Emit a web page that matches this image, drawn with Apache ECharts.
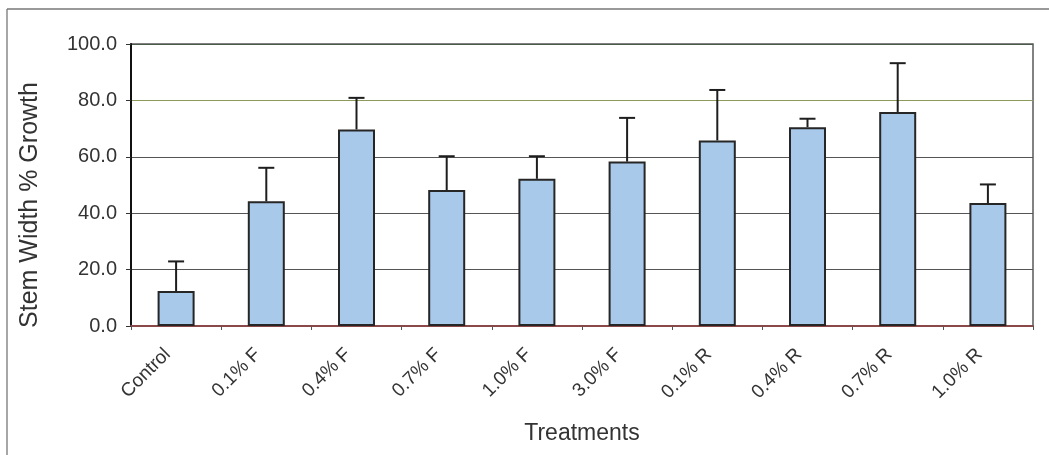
<!DOCTYPE html>
<html>
<head>
<meta charset="utf-8">
<script src="https://cdn.jsdelivr.net/npm/echarts@6/dist/echarts.min.js"></script>
<style>
  html, body { margin: 0; padding: 0; background: #fff; }
  #chart { width: 1049px; height: 455px; }
</style>
</head>
<body>
<div id="chart"></div>
<script>
// Treatment groups and mean stem width growth (%) with upper error bar ends
const categories = ['Control', '0.1% F', '0.4% F', '0.7% F', '1.0% F', '3.0% F', '0.1% R', '0.4% R', '0.7% R', '1.0% R'];
const growth = [12.4, 44.2, 69.7, 48.2, 52.2, 58.3, 65.8, 70.5, 75.9, 43.6];
const errorTop = [22.9, 56.1, 80.9, 60.2, 60.2, 73.8, 83.7, 73.5, 93.2, 50.2];
const yTicks = [0, 20, 40, 60, 80, 100];

const font = '"Liberation Sans", Arial, sans-serif';
const chart = echarts.init(document.getElementById('chart'), null, { renderer: 'canvas' });

const errData = categories.map((c, i) => [i, growth[i], errorTop[i]]);

chart.setOption({
  animation: false,
  backgroundColor: '#fff',
  grid: {
    left: 131, right: 16, top: 44, bottom: 129,
    show: true, borderColor: '#5a5a5a', borderWidth: 1.5, backgroundColor: 'transparent'
  },
  xAxis: {
    type: 'category',
    data: categories,
    axisLine: { show: true, lineStyle: { color: '#8a4848', width: 2 } },
    axisTick: { show: true, alignWithLabel: false, length: 4, lineStyle: { color: '#555', width: 1 } },
    axisLabel: {
      rotate: 45, margin: 17, color: '#333', fontSize: 19, fontFamily: font, interval: 0,
      padding: [0, 12, 0, 0]
    },
    splitLine: { show: false }
  },
  yAxis: {
    type: 'value',
    min: yTicks[0], max: yTicks[yTicks.length - 1], interval: 20,
    axisLine: { show: true, lineStyle: { color: '#111', width: 2 } },
    axisTick: { show: true, length: 5, lineStyle: { color: '#333', width: 1 } },
    axisLabel: {
      margin: 14, color: '#333', fontSize: 20, fontFamily: font,
      formatter: v => v.toFixed(1)
    },
    splitLine: {
      show: true,
      lineStyle: { color: ['#8a4848', '#555', '#555', '#555', '#8a9a5a', '#4a5a48'], width: 1.2 }
    }
  },
  series: [
    {
      type: 'bar',
      data: growth,
      barWidth: 37,
      itemStyle: { color: '#a8c9ea', borderColor: '#262626', borderWidth: 2 },
      z: 3
    },
    {
      // upper error bars with caps
      type: 'custom',
      data: errData,
      z: 4,
      renderItem: (params, api) => {
        const x = api.value(0);
        const base = api.coord([x, api.value(1)]);
        const top = api.coord([x, api.value(2)]);
        const hw = 8;
        const st = { stroke: '#1e1e1e', lineWidth: 2 };
        return {
          type: 'group',
          children: [
            { type: 'line', shape: { x1: base[0], y1: base[1], x2: top[0], y2: top[1] }, style: st },
            { type: 'line', shape: { x1: top[0] - hw, y1: top[1], x2: top[0] + hw, y2: top[1] }, style: st }
          ]
        };
      }
    }
  ],
  graphic: [
    // outer chart frame (top and left edges)
    { type: 'line', shape: { x1: 7, y1: 9, x2: 1049, y2: 9 }, style: { stroke: '#777', lineWidth: 1.3 } },
    { type: 'line', shape: { x1: 7, y1: 9, x2: 7, y2: 455 }, style: { stroke: '#777', lineWidth: 1.3 } },
    {
      type: 'text', x: 30, y: 205, rotation: Math.PI / 2,
      style: { text: 'Stem Width % Growth', fill: '#333', font: '25px ' + font, align: 'center', verticalAlign: 'middle' }
    },
    {
      type: 'text', x: 582, y: 434,
      style: { text: 'Treatments', fill: '#333', font: '23px ' + font, align: 'center', verticalAlign: 'middle' }
    }
  ]
});
</script>
</body>
</html>
